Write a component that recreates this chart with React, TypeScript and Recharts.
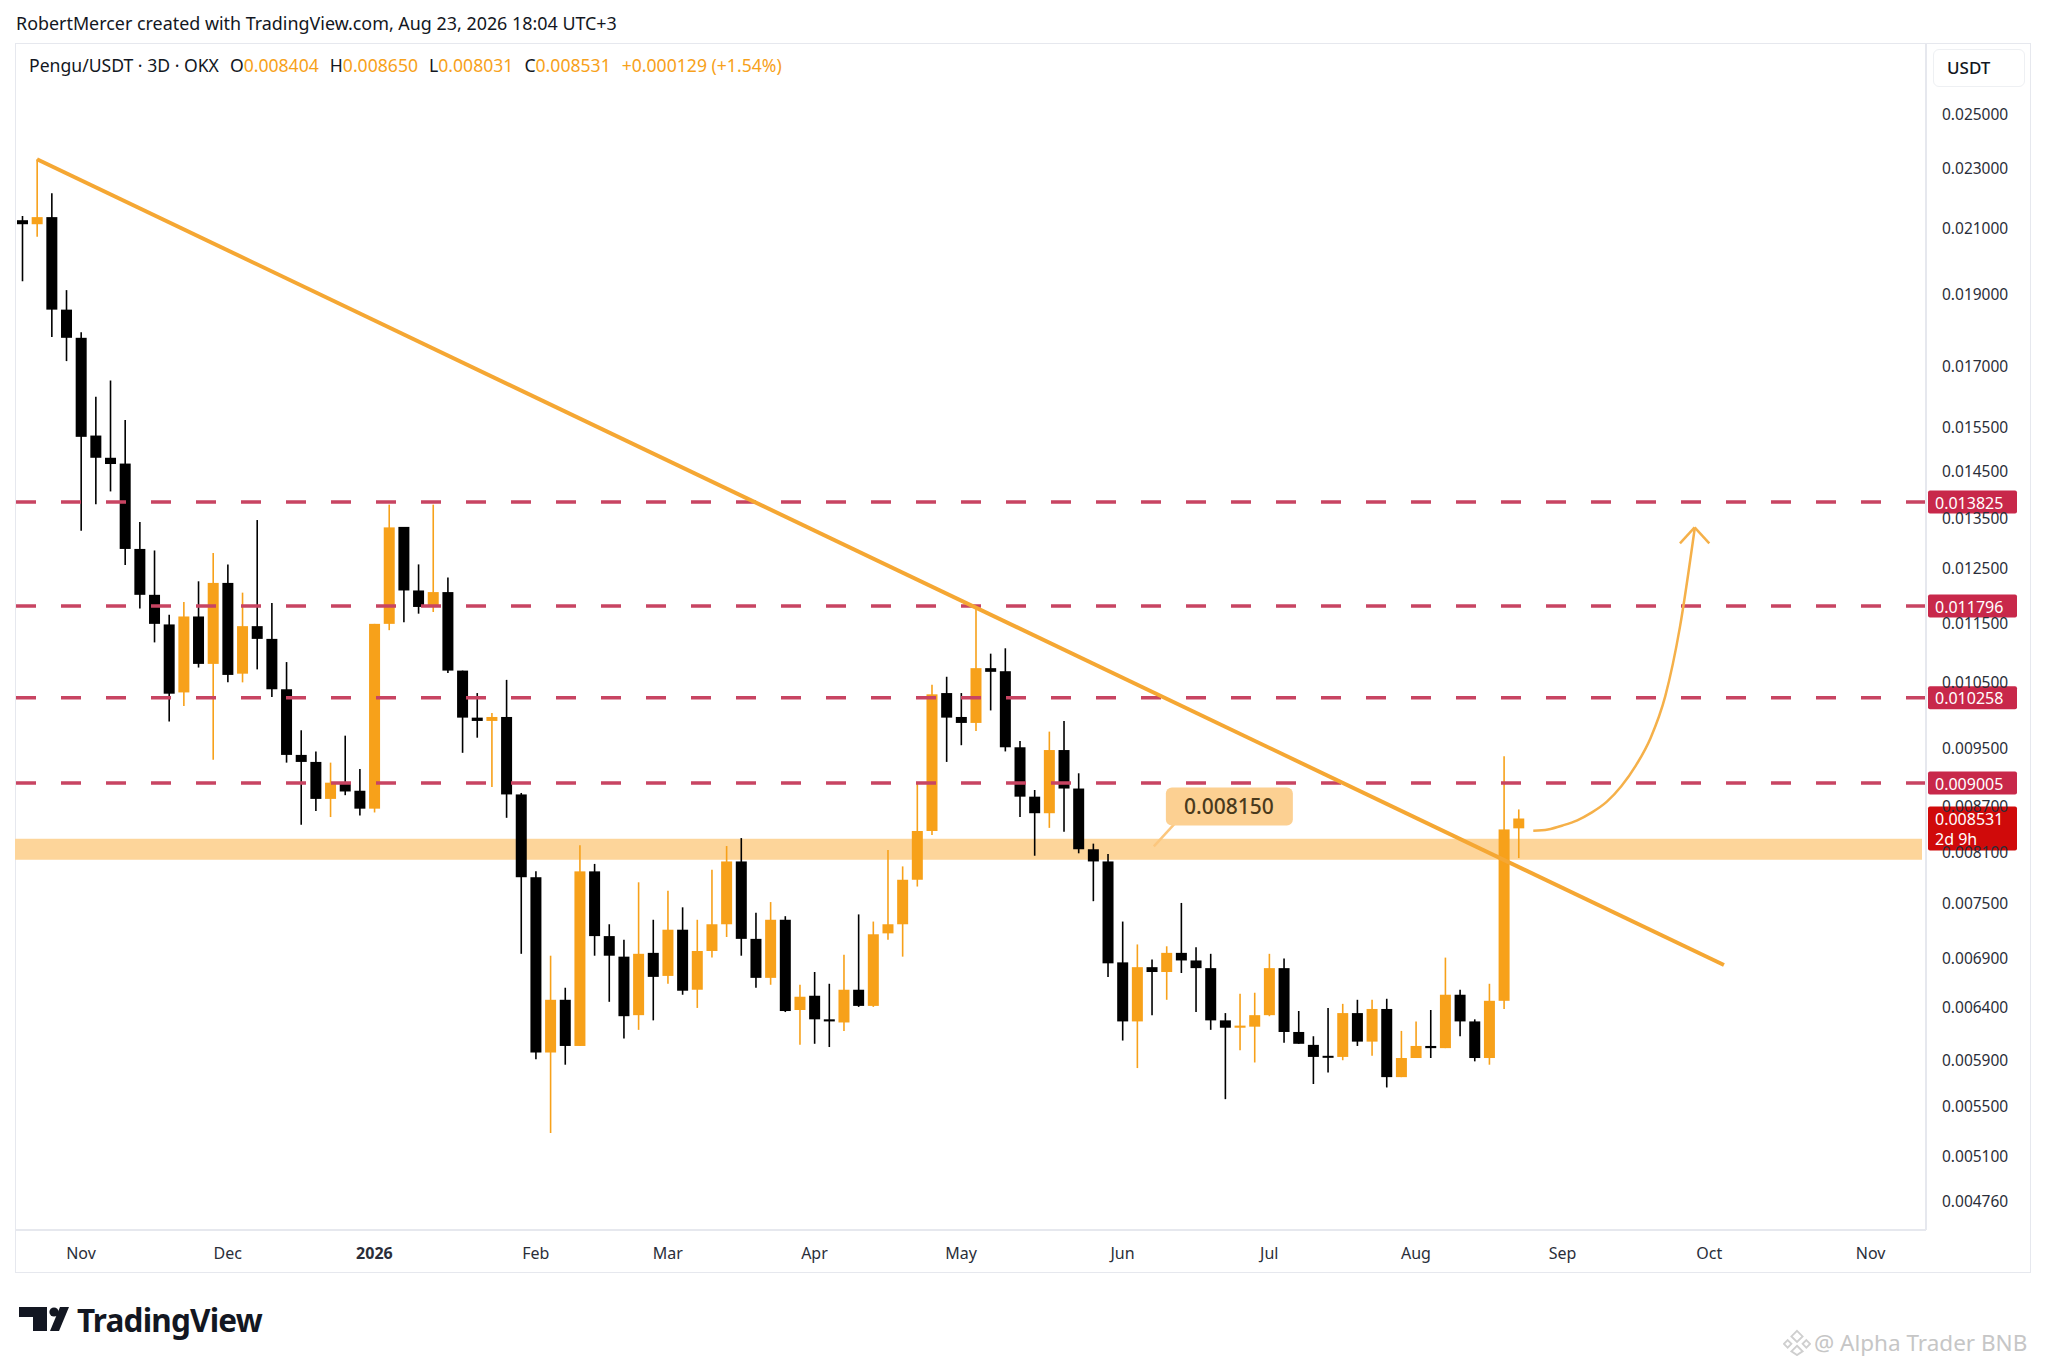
import React from 'react'
import { ComposedChart, Bar, Line, XAxis, YAxis, ReferenceLine, ReferenceArea, ReferenceDot } from 'recharts'

// 3D candles, Pengu/USDT on OKX, 21 Oct 2025 .. 23 Aug 2026
const OPEN = [
  0.02125, 0.02112, 0.02135, 0.01854, 0.01776, 0.0153, 0.01479, 0.01466, 0.01287, 0.012,
  0.01147, 0.01034, 0.01161, 0.0108, 0.01222, 0.01064, 0.01144, 0.01122, 0.01039, 0.0094,
  0.0093, 0.00879, 0.00901, 0.0089, 0.00866, 0.01148, 0.01331, 0.01208, 0.01178, 0.01205,
  0.01069, 0.00995, 0.0099, 0.00996, 0.00885, 0.0078, 0.00597, 0.00647, 0.00603, 0.00787,
  0.00713, 0.00691, 0.00632, 0.00695, 0.00671, 0.0072, 0.00657, 0.00697, 0.00726, 0.00799,
  0.0071, 0.00669, 0.00731, 0.00637, 0.00651, 0.00628, 0.00625, 0.00657, 0.00641, 0.00716,
  0.00726, 0.00777, 0.00837, 0.01033, 0.00996, 0.00987, 0.01073, 0.01068, 0.00951, 0.00882,
  0.0086, 0.00947, 0.00893, 0.00814, 0.00799, 0.00685, 0.00626, 0.0068, 0.00675, 0.00695,
  0.00687, 0.00679, 0.00627, 0.0062, 0.00621, 0.00632, 0.00679, 0.00616, 0.00604, 0.00594,
  0.00593, 0.00634, 0.00607, 0.00638, 0.00575, 0.00592, 0.00603, 0.00601, 0.00652, 0.00626,
  0.00592, 0.00646, 0.008404,
]
const HIGH = [
  0.02139, 0.02332, 0.02214, 0.0191, 0.01791, 0.01623, 0.01664, 0.01567, 0.01341, 0.01284,
  0.01164, 0.01187, 0.01225, 0.01279, 0.01257, 0.01204, 0.01345, 0.01185, 0.01083, 0.00976,
  0.00945, 0.00929, 0.00968, 0.0092, 0.01148, 0.01377, 0.01331, 0.01257, 0.01377, 0.01232,
  0.01069, 0.01033, 0.01002, 0.01054, 0.00887, 0.00787, 0.00692, 0.00659, 0.00819, 0.00796,
  0.00726, 0.00709, 0.00774, 0.00731, 0.00764, 0.00745, 0.00731, 0.00789, 0.00818, 0.00828,
  0.00739, 0.00751, 0.00735, 0.00662, 0.00675, 0.00663, 0.00693, 0.00737, 0.00729, 0.00813,
  0.00793, 0.00902, 0.01046, 0.01059, 0.01033, 0.0118, 0.01097, 0.01106, 0.0096, 0.00891,
  0.00974, 0.0099, 0.00914, 0.00821, 0.00808, 0.00729, 0.00704, 0.00688, 0.00702, 0.0075,
  0.00701, 0.00694, 0.00634, 0.00653, 0.00654, 0.00694, 0.00689, 0.00636, 0.00612, 0.00639,
  0.00643, 0.00647, 0.00647, 0.00648, 0.00617, 0.00626, 0.00637, 0.0069, 0.00657, 0.00628,
  0.00663, 0.00938, 0.00865,
]
const LOW = [
  0.01936, 0.02072, 0.01778, 0.01714, 0.01323, 0.01378, 0.01405, 0.01256, 0.01175, 0.01116,
  0.00989, 0.01013, 0.01074, 0.00933, 0.0105, 0.0105, 0.01071, 0.01027, 0.00929, 0.00845,
  0.00863, 0.00855, 0.00884, 0.00857, 0.00861, 0.01137, 0.01151, 0.01166, 0.01169, 0.01065,
  0.00943, 0.00965, 0.00895, 0.00854, 0.00694, 0.00591, 0.00528, 0.00586, 0.00603, 0.00692,
  0.00645, 0.0061, 0.00618, 0.00627, 0.00663, 0.00652, 0.00639, 0.0069, 0.00712, 0.00692,
  0.00659, 0.00662, 0.00635, 0.00604, 0.00605, 0.00602, 0.00617, 0.0064, 0.0064, 0.00709,
  0.00691, 0.00769, 0.00832, 0.0093, 0.00954, 0.00975, 0.01006, 0.00945, 0.00855, 0.00806,
  0.00841, 0.00836, 0.00809, 0.00752, 0.0067, 0.00608, 0.00583, 0.00632, 0.00647, 0.00674,
  0.00635, 0.00618, 0.00556, 0.00599, 0.00588, 0.00631, 0.00606, 0.00605, 0.00569, 0.00579,
  0.0059, 0.00603, 0.00594, 0.00566, 0.00575, 0.00592, 0.00592, 0.00601, 0.00612, 0.00589,
  0.00586, 0.00638, 0.008031,
]
const CLOSE = [
  0.02112, 0.02135, 0.01854, 0.01776, 0.01527, 0.01479, 0.01465, 0.01287, 0.012, 0.01148,
  0.01032, 0.01161, 0.0108, 0.01222, 0.01062, 0.01144, 0.01122, 0.01039, 0.0094, 0.0093,
  0.00879, 0.00901, 0.00889, 0.00866, 0.01148, 0.0133, 0.01208, 0.01178, 0.01205, 0.01069,
  0.00995, 0.0099, 0.00996, 0.00885, 0.0078, 0.00597, 0.00647, 0.00603, 0.00787, 0.00713,
  0.00692, 0.00631, 0.00694, 0.0067, 0.0072, 0.00656, 0.00697, 0.00726, 0.00799, 0.0071,
  0.00669, 0.00731, 0.00636, 0.0065, 0.00628, 0.00626, 0.00657, 0.00641, 0.00715, 0.00726,
  0.00777, 0.00837, 0.01031, 0.00995, 0.00987, 0.01073, 0.01067, 0.00951, 0.00882, 0.0086,
  0.00947, 0.00893, 0.00814, 0.00799, 0.00684, 0.00626, 0.0068, 0.00675, 0.00695, 0.00687,
  0.00679, 0.00627, 0.0062, 0.00622, 0.00632, 0.00679, 0.00616, 0.00605, 0.00593, 0.00593,
  0.00634, 0.00607, 0.00638, 0.00575, 0.00592, 0.00603, 0.00601, 0.00652, 0.00626, 0.00592,
  0.00646, 0.00839, 0.008531,
]

// 103 candles + empty slots to the right edge
const SLOT_COUNT = 130

const MONTH_SLOTS = [4, 14, 24, 35, 44, 54, 64, 75, 85, 95, 105, 115, 126]
const MONTH_LABELS = ['Nov', 'Dec', '2026', 'Feb', 'Mar', 'Apr', 'May', 'Jun', 'Jul', 'Aug', 'Sep', 'Oct', 'Nov']

const PRICE_TICKS = [
  0.025, 0.023, 0.021, 0.019, 0.017, 0.0155, 0.0145, 0.0135, 0.0125, 0.0115, 0.0105,
  0.0095, 0.0087, 0.0081, 0.0075, 0.0069, 0.0064, 0.0059, 0.0055, 0.0051, 0.00476,
]

const LEVELS = [0.013825, 0.011796, 0.010258, 0.009005]
const ZONE = [0.00801, 0.00827]
const ZONE_LABEL = 0.00815

// trendline from the Oct high to the projected end
const TREND = [
  { slot: 1, price: 0.02332 },
  { slot: 116, price: 0.006823 },
]

// projected path arrow
const ARROW_SLOTS = [103, 104, 105, 106, 107, 108, 109, 110, 111, 112, 113, 114]
const ARROW_PRICES = [
  0.008373, 0.00839, 0.008441, 0.008508, 0.008611, 0.00875, 0.008961, 0.009251, 0.009647,
  0.010282, 0.011427, 0.013267,
]

const LAST = { o: 0.008404, h: 0.00865, l: 0.008031, c: 0.008531, chg: '+0.000129 (+1.54%)' }

const ORANGE = '#F7A11A'
const BLACK = '#000000'
const DASH_RED = '#C84462'
const TAG_RED = '#C8284A'
const TEXT = '#131722'
const BORDER = '#e6e8ee'
const FONT = '"Noto Sans", "Open Sans", sans-serif'

const data = Array.from({ length: SLOT_COUNT }, (_, i) => {
  const row: any = { i }
  if (i < OPEN.length) {
    row.o = OPEN[i]
    row.h = HIGH[i]
    row.l = LOW[i]
    row.c = CLOSE[i]
    row.range = [LOW[i], HIGH[i]]
  }
  const a = ARROW_SLOTS.indexOf(i)
  if (a >= 0) row.arrow = ARROW_PRICES[a]
  return row
})

const Candle = (props: any) => {
  const { x, y, width, height, payload } = props
  if (!payload || payload.o == null || isNaN(y) || isNaN(height)) return null
  const top = Math.min(y, y + height)
  const h = Math.abs(height)
  const lh = Math.log(payload.h)
  const ll = Math.log(payload.l)
  const toY = (v: number) => top + ((lh - Math.log(v)) / (lh - ll)) * h
  const up = payload.c >= payload.o
  const color = up ? ORANGE : BLACK
  const cx = x + width / 2
  const bTop = toY(Math.max(payload.o, payload.c))
  const bBot = toY(Math.min(payload.o, payload.c))
  const bh = Math.max(bBot - bTop, 2)
  return (
    <g>
      <line x1={cx} x2={cx} y1={top} y2={top + h} stroke={color} strokeWidth={1.6} />
      <rect x={x} y={bTop} width={width} height={bh} fill={color} />
    </g>
  )
}

const PriceTag = ({ viewBox, text, sub, fill }: any) => {
  if (!viewBox) return null
  const x = viewBox.x + viewBox.width + 2
  const y = viewBox.y
  const h = sub ? 44 : 23
  const top = sub ? y - 12 : y - 11.5
  return (
    <g>
      <rect x={x} y={top} width={89} height={h} rx={2} fill={fill} />
      <text x={x + 7} y={top + 12} fill="#ffffff" fontSize={16} fontFamily={FONT} dominantBaseline="central">
        {text}
      </text>
      {sub && (
        <text x={x + 7} y={top + 32} fill="#ffffff" fontSize={16} fontFamily={FONT} dominantBaseline="central">
          {sub}
        </text>
      )}
    </g>
  )
}

const PriceTick = (props: any) => {
  const { x, y, payload } = props
  return (
    <text x={x} y={y} fill="#2a2e39" fontSize={15.5} fontFamily={FONT} dominantBaseline="central" textAnchor="start">
      {Number(payload.value).toFixed(6)}
    </text>
  )
}

const MonthTick = (props: any) => {
  const { x, y, payload } = props
  const k = MONTH_SLOTS.indexOf(Number(payload.value))
  const label = MONTH_LABELS[k] ?? ''
  return (
    <text
      x={x}
      y={y + 21}
      fill="#2a2e39"
      fontSize={16}
      fontWeight={label === '2026' ? 700 : 400}
      fontFamily={FONT}
      dominantBaseline="central"
      textAnchor="middle"
    >
      {label}
    </text>
  )
}

const Callout = (props: any) => {
  const { cx, cy } = props
  if (cx == null || cy == null) return null
  return (
    <g>
      <line x1={cx + 2} y1={cy - 2} x2={cx + 24} y2={cy - 26} stroke="#FCC77E" strokeWidth={2.5} />
      <rect x={cx + 14} y={cy - 61} width={127} height={38} rx={6} fill="#FCD092" />
      <text
        x={cx + 77}
        y={cy - 42}
        fill="#4a3a1c"
        fontSize={21}
        fontFamily={FONT}
        fontWeight={500}
        textAnchor="middle"
        dominantBaseline="central"
      >
        {ZONE_LABEL.toFixed(6)}
      </text>
    </g>
  )
}

const TVLogo = () => (
  <svg width={70} height={30} style={{ position: 'absolute', left: 17, top: 1305 }} viewBox="0 0 70 30">
    <path d="M2 2 H30 V12 H30 V26 H16 V12 H2 Z" fill={TEXT} />
    <circle cx={37} cy={7} r={4.6} fill={TEXT} />
    <path d="M43 2 H52 L42 26 H33 Z" fill={TEXT} />
  </svg>
)

const Watermark = () => (
  <div
    style={{
      position: 'absolute',
      left: 1783,
      top: 1326,
      height: 32,
      display: 'flex',
      alignItems: 'center',
      color: '#c6c6c6',
      fontFamily: FONT,
      fontSize: 22.5,
      whiteSpace: 'nowrap',
    }}
  >
    <svg width={28} height={28} viewBox="0 0 30 30" style={{ marginRight: 3 }}>
      <g fill="none" stroke="#cfcfcf" strokeWidth={2}>
        <path d="M15 3 L21 9 L15 15 L9 9 Z" />
        <path d="M5 13 L9 17 L5 21 L1 17 Z" />
        <path d="M25 13 L29 17 L25 21 L21 17 Z" />
        <path d="M15 19 L21 25 L15 29 L9 25 Z" />
      </g>
    </svg>
    <span>@ Alpha Trader BNB</span>
  </div>
)

export default function App() {
  return (
    <div
      style={{
        position: 'absolute',
        left: 0,
        top: 0,
        width: 2048,
        height: 1367,
        background: '#ffffff',
        overflow: 'hidden',
        fontFamily: FONT,
      }}
    >
      <div
        style={{ position: 'absolute', left: 16, top: 12, fontSize: 17.9, lineHeight: '22px', color: TEXT, whiteSpace: 'nowrap' }}
      >
        RobertMercer created with TradingView.com, Aug 23, 2026 18:04 UTC+3
      </div>

      <div
        style={{
          position: 'absolute',
          left: 15,
          top: 43,
          width: 2016,
          height: 1230,
          border: `1px solid ${BORDER}`,
          boxSizing: 'border-box',
        }}
      />

      <ComposedChart
        width={2031}
        height={1273}
        data={data}
        margin={{ top: 43, right: 0, bottom: 0, left: 15 }}
        style={{ position: 'absolute', left: 0, top: 0 }}
        barCategoryGap={0}
      >
        <XAxis
          dataKey="i"
          type="category"
          ticks={MONTH_SLOTS}
          interval={0}
          height={43}
          tickLine={false}
          tickSize={0}
          axisLine={{ stroke: BORDER, strokeWidth: 2 }}
          tick={<MonthTick />}
          padding={{ left: 0, right: 4 }}
        />
        <YAxis
          orientation="right"
          scale="log"
          domain={[0.004554, 0.027845]}
          allowDataOverflow
          ticks={PRICE_TICKS}
          interval={0}
          width={105}
          tickLine={false}
          tickSize={0}
          tickMargin={16}
          axisLine={{ stroke: BORDER, strokeWidth: 2 }}
          tick={<PriceTick />}
        />

        <ReferenceArea y1={ZONE[0]} y2={ZONE[1]} fill="#FDD59A" fillOpacity={1} stroke="none" />
        {LEVELS.map((v) => (
          <ReferenceLine
            key={v}
            y={v}
            stroke={DASH_RED}
            strokeWidth={3.5}
            strokeDasharray="20 25"
            label={(p: any) => <PriceTag viewBox={p.viewBox} text={v.toFixed(6)} fill={TAG_RED} />}
          />
        ))}

        <Bar dataKey="range" barSize={11} shape={<Candle />} isAnimationActive={false} />

        <ReferenceLine
          segment={[
            { x: TREND[0].slot, y: TREND[0].price },
            { x: TREND[1].slot, y: TREND[1].price },
          ]}
          stroke="#F5A733"
          strokeWidth={4}
        />

        <Line
          dataKey="arrow"
          type="monotone"
          stroke="#F5B049"
          strokeWidth={2.5}
          dot={false}
          activeDot={false}
          isAnimationActive={false}
        />
        <ReferenceLine
          segment={[
            { x: 114, y: 0.0133 },
            { x: 113, y: 0.01298 },
          ]}
          stroke="#F5B049"
          strokeWidth={2.5}
        />
        <ReferenceLine
          segment={[
            { x: 114, y: 0.0133 },
            { x: 115, y: 0.01298 },
          ]}
          stroke="#F5B049"
          strokeWidth={2.5}
        />

        <ReferenceDot x={77} y={ZONE_LABEL} r={0} shape={<Callout />} />

        <ReferenceLine
          y={LAST.c}
          stroke="none"
          label={(p: any) => <PriceTag viewBox={p.viewBox} text={LAST.c.toFixed(6)} sub="2d 9h" fill="#D00A0A" />}
        />
      </ComposedChart>

      <div
        style={{
          position: 'absolute',
          left: 29,
          top: 54,
          fontSize: 17.6,
          lineHeight: '22px',
          color: TEXT,
          whiteSpace: 'nowrap',
        }}
      >
        <span>Pengu/USDT · 3D · OKX</span>
        <span style={{ marginLeft: 11 }}>O</span>
        <span style={{ color: ORANGE }}>{LAST.o.toFixed(6)}</span>
        <span style={{ marginLeft: 11 }}>H</span>
        <span style={{ color: ORANGE }}>{LAST.h.toFixed(6)}</span>
        <span style={{ marginLeft: 11 }}>L</span>
        <span style={{ color: ORANGE }}>{LAST.l.toFixed(6)}</span>
        <span style={{ marginLeft: 11 }}>C</span>
        <span style={{ color: ORANGE }}>{LAST.c.toFixed(6)}</span>
        <span style={{ marginLeft: 11, color: ORANGE }}>{LAST.chg}</span>
      </div>

      <div
        style={{
          position: 'absolute',
          left: 1933,
          top: 49,
          width: 92,
          height: 38,
          border: '1px solid #eef0f3',
          borderRadius: 6,
          boxSizing: 'border-box',
          fontSize: 17,
          fontWeight: 500,
          color: TEXT,
          lineHeight: '36px',
          paddingLeft: 13,
        }}
      >
        USDT
      </div>

      <TVLogo />
      <div
        style={{
          position: 'absolute',
          left: 77,
          top: 1300,
          fontSize: 31.5,
          fontWeight: 700,
          color: TEXT,
          lineHeight: '40px',
          letterSpacing: -0.8,
        }}
      >
        TradingView
      </div>
      <Watermark />
    </div>
  )
}
